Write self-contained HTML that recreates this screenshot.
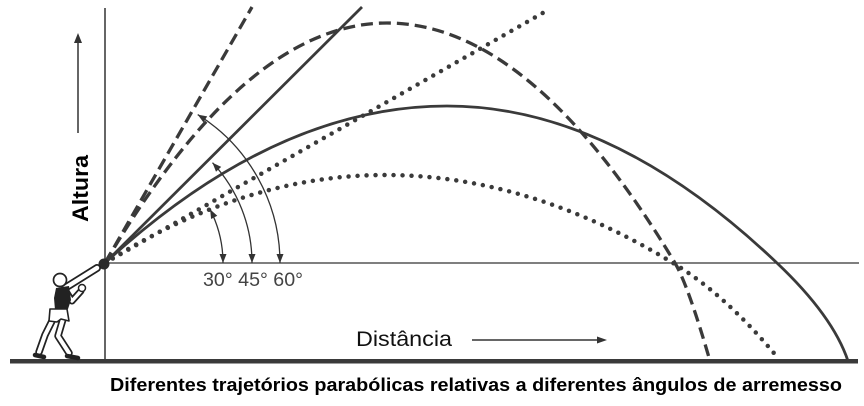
<!DOCTYPE html>
<html>
<head>
<meta charset="utf-8">
<style>
html,body{margin:0;padding:0;background:#fff;}
svg{display:block;}
</style>
</head>
<body>
<svg width="864" height="406" viewBox="0 0 864 406" xmlns="http://www.w3.org/2000/svg">
<rect width="864" height="406" fill="#fff"/>

<!-- axes -->
<line x1="105" y1="8" x2="105" y2="360" stroke="#333" stroke-width="1.5"/>
<line x1="105" y1="263" x2="859" y2="263" stroke="#333" stroke-width="1.3"/>
<rect x="10" y="359" width="848" height="4.5" fill="#3a3a3a"/>

<!-- straight direction lines -->
<line x1="105" y1="263" x2="362" y2="7" stroke="#3a3a3a" stroke-width="2.8"/>
<line x1="105" y1="263" x2="252" y2="7" stroke="#3a3a3a" stroke-width="3.3" stroke-dasharray="12 6"/>
<line x1="105" y1="263" x2="548" y2="10" stroke="#3a3a3a" stroke-width="4.5" stroke-linecap="round" stroke-dasharray="0 9"/>

<!-- trajectories -->
<path d="M105,263 Q276,106 447,106 Q612,106 777,263 Q833,316 848,361" fill="none" stroke="#3a3a3a" stroke-width="2.8"/>
<path d="M105,263 Q246,23 387,23 Q531,23 675,263 Q688,285 710,361" fill="none" stroke="#3a3a3a" stroke-width="3.3" stroke-dasharray="12 6"/>
<path d="M105,263 Q245,175 385,175 Q529,175 673,263 Q726,295 778,358" fill="none" stroke="#3a3a3a" stroke-width="4.5" stroke-linecap="round" stroke-dasharray="0 9"/>

<!-- angle arcs -->
<g fill="none" stroke="#333" stroke-width="1.3">
<path d="M223,263 A118,118 0 0 0 210.1,209.4"/>
<path d="M252,263 A147,147 0 0 0 212.5,162.7"/>
<path d="M280,263 A175,175 0 0 0 197.7,114.6"/>
</g>
<g fill="#333">
<polygon points="223,263 219.5,254 226.5,254"/>
<polygon points="252,263 248.5,254 255.5,254"/>
<polygon points="280,263 276.5,254 283.5,254"/>
<polygon points="210.1,209.4 217.3,215.8 211.1,219.0"/>
<polygon points="212.5,162.7 221.2,166.9 216.0,171.7"/>
<polygon points="197.7,114.6 207.2,116.4 203.4,122.4"/>
</g>

<!-- ball -->
<circle cx="104" cy="264" r="5.5" fill="#2a2a2a"/>

<!-- athlete -->
<g stroke-linecap="round" stroke-linejoin="round" fill="none">
  <!-- legs -->
  <polyline points="53,319 45,335 39,352" stroke="#222" stroke-width="7.5"/>
  <polyline points="53,319 45,335 39,352" stroke="#fff" stroke-width="4"/>
  <polyline points="63,319 58,336 69,353" stroke="#222" stroke-width="7.5"/>
  <polyline points="63,319 58,336 69,353" stroke="#fff" stroke-width="4"/>
  <!-- feet -->
  <path d="M35,355 L44,357" stroke="#222" stroke-width="4.5"/>
  <path d="M67,356 L78,358" stroke="#222" stroke-width="4.5"/>
  <!-- extended arm -->
  <line x1="65" y1="288" x2="97" y2="268" stroke="#222" stroke-width="8"/>
  <line x1="65" y1="288" x2="97" y2="268" stroke="#fff" stroke-width="4.5"/>
  <!-- bent arm -->
  <polyline points="67,293 72,301 81,291" stroke="#222" stroke-width="7"/>
  <polyline points="67,293 72,301 81,291" stroke="#fff" stroke-width="3.5"/>
</g>
<circle cx="82" cy="288" r="3.5" fill="#fff" stroke="#222" stroke-width="1.5"/>
<polygon points="56,288 69,286 71,300 68,309 55,310 54,298" fill="#222"/>
<polygon points="50,309 67,309 69,321 61,319 57,322 49,321" fill="#fff" stroke="#222" stroke-width="1.6" stroke-linejoin="round"/>
<circle cx="60" cy="280" r="6.5" fill="#fff" stroke="#222" stroke-width="1.7"/>

<!-- Altura arrow -->
<line x1="78" y1="133" x2="78" y2="40" stroke="#333" stroke-width="1.5"/>
<polygon points="78,33 74,43 82,43" fill="#333"/>
<text transform="translate(88,222) rotate(-90)" font-family="Liberation Sans, Arial, sans-serif" font-weight="bold" font-size="22" fill="#000" textLength="67" lengthAdjust="spacingAndGlyphs">Altura</text>

<!-- Distância -->
<text x="356" y="346" font-family="Liberation Sans, Arial, sans-serif" font-size="21" fill="#111" textLength="96" lengthAdjust="spacingAndGlyphs">Distância</text>
<line x1="472" y1="340" x2="598" y2="340" stroke="#333" stroke-width="1.5"/>
<polygon points="607,340 597,336.5 597,343.5" fill="#333"/>

<!-- angle labels -->
<text x="203" y="286" font-family="Liberation Sans, Arial, sans-serif" font-size="19" fill="#444" textLength="100" lengthAdjust="spacingAndGlyphs">30° 45° 60°</text>

<!-- caption -->
<text x="110" y="391" font-family="Liberation Sans, Arial, sans-serif" font-weight="bold" font-size="18" fill="#000" textLength="732" lengthAdjust="spacingAndGlyphs">Diferentes trajetórios parabólicas relativas a diferentes ângulos de arremesso</text>
</svg>
</body>
</html>
